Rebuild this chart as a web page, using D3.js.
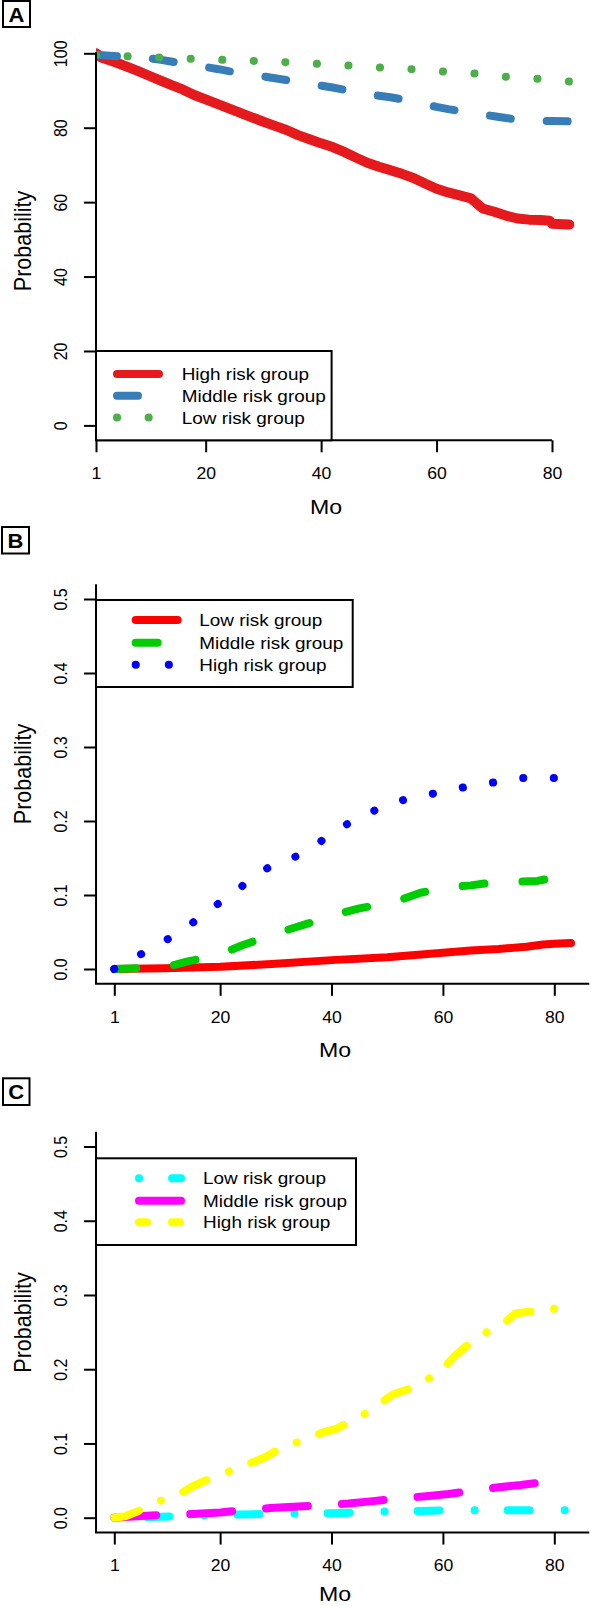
<!DOCTYPE html>
<html><head><meta charset="utf-8">
<script src="https://cdn.jsdelivr.net/npm/d3@7"></script>
<style>
html,body{margin:0;padding:0;background:#fff;}
svg{display:block;}
text{font-family:"Liberation Sans",Arial,Helvetica,sans-serif;fill:#000;}
</style></head><body>
<svg id="chart" width="591" height="1606"></svg>
<script>
// ---------------- DATA ----------------
const xTicks = [1, 20, 40, 60, 80];
const aYTicks = [0, 20, 40, 60, 80, 100];
const bcYTicks = [0, 0.1, 0.2, 0.3, 0.4, 0.5];
const bcYTickLabels = ["0.0", "0.1", "0.2", "0.3", "0.4", "0.5"];
const xLabel = "Mo";
const yLabel = "Probability";

// Panel A: survival probability (%)
const aHighMonths = [1,2,4,6,8,10,12,14,16,18,20,22,24,26,28,30,32,34,36,38,40,42,44,46,48,50,52,54,56,58,60,62,64,66,67,68,70,72,74,76,78,79.6,80,83];
const aHighValues = [100,98.8,97.8,96.6,95.4,94.1,92.8,91.5,90.3,88.8,87.6,86.4,85.2,84,82.8,81.6,80.5,79.4,78.0,76.9,75.8,74.8,73.5,72,70.6,69.5,68.6,67.6,66.5,65,63.6,62.6,61.8,61,59.6,58.3,57.4,56.4,55.6,55.3,55.2,55.0,54.2,54];
const aMidMonths = [1,5,8,10,12,14,16,18,20,22,24,26,28,30,32,34,36,38,40,42,44,46,48,50,52,54,56,58,60,62,64,66,68,70,72,74,76,80,83];
const aMidValues = [99.6,99.2,98.9,98.7,98.3,97.8,97.2,96.7,96.3,95.8,95.2,94.7,94.2,93.8,93.3,92.8,92.3,91.8,91.3,90.8,90.2,89.6,89.1,88.6,88.2,87.6,87.0,86.3,85.6,85.0,84.5,84.0,83.5,83.1,82.6,82.2,81.9,81.8,81.7];
const aLowMonths = [1,6,12,18,24,29,34,40,45,51,56,62,67,72,78,83];
const aLowValues = [99.5,99.2,98.9,98.5,98.2,97.9,97.6,97.1,96.7,96.1,95.7,95.0,94.5,93.7,93.1,92.4];
const aNames = ["High risk group", "Middle risk group", "Low risk group"];

// Panel B: cumulative probability
const bLowMonths = [1,10,20,30,40,50,55,60,65,70,75,78,80,83];
const bLowValues = [0,0.001,0.003,0.007,0.012,0.016,0.019,0.022,0.025,0.027,0.030,0.033,0.034,0.035];
const bMidMonths = [1,5,10,12,14,16,20,22,24,27,30,33,36,39,42,45,48,51,53,56,59,62,65,68,71,74,77,79.5,80,83];
const bMidValues = [0,0.001,0.003,0.006,0.01,0.013,0.02,0.026,0.032,0.04,0.048,0.055,0.062,0.07,0.076,0.082,0.086,0.09,0.095,0.103,0.108,0.111,0.113,0.116,0.117,0.118,0.119,0.123,0.131,0.131];
const bHighMonths = [1,4,8,12,15,18,21,23,26,30,34,38,41,45,49,54,59,64,69,74,80];
const bHighValues = [0,0.012,0.03,0.046,0.062,0.08,0.095,0.106,0.125,0.143,0.153,0.172,0.189,0.204,0.219,0.231,0.238,0.246,0.252,0.258,0.258];
const bNames = ["Low risk group", "Middle risk group", "High risk group"];

// Panel C: cumulative probability
const cLowMonths = [1,8,12,16,22,28,35,40,44,48,52,56,60,70,76,83];
const cLowValues = [0,0.001,0.002,0.003,0.004,0.005,0.006,0.006,0.007,0.008,0.009,0.009,0.01,0.01,0.01,0.01];
const cMidMonths = [1,5,10,15,20,24,29,34,38,43,47,52,57,61,65,70,74,77,79];
const cMidValues = [0,0.002,0.004,0.005,0.007,0.01,0.013,0.015,0.017,0.019,0.022,0.026,0.029,0.032,0.036,0.041,0.044,0.047,0.051];
const cHighMonths = [1,3,5,7,9,11,13,15,18,21,23,26,28,31,34,36,39,41,43,46,48,51,53,55,58,60,62,65,67,69,71,73,75,77,78,83];
const cHighValues = [0,0.002,0.008,0.015,0.022,0.028,0.033,0.042,0.052,0.06,0.068,0.075,0.081,0.094,0.102,0.109,0.116,0.12,0.129,0.14,0.15,0.166,0.171,0.176,0.19,0.2,0.217,0.236,0.245,0.256,0.262,0.275,0.277,0.278,0.281,0.282];
const cNames = ["Low risk group", "Middle risk group", "High risk group"];

// ---------------- LAYOUT / STYLE ----------------
const FONT_SX = 1.1;
const svg = d3.select("#chart");

function hText(parent, x, y, str, size, anchor, weight) {
  return parent.append("text")
    .attr("transform", `translate(${x},${y + 0.358 * size}) scale(${FONT_SX},1)`)
    .attr("text-anchor", anchor || "middle")
    .attr("font-size", size)
    .attr("font-weight", weight || "normal")
    .text(str);
}
function vText(parent, x, y, str, size) {
  return parent.append("text")
    .attr("transform", `translate(${x},${y}) scale(${FONT_SX},1) rotate(-90)`)
    .attr("y", 0.358 * size)
    .attr("text-anchor", "middle")
    .attr("font-size", size)
    .text(str);
}

const panels = [
  {
    letter: "A", letterBox: [3, 1, 27, 26],
    x: d3.scaleLinear().domain([1, 80]).range([96, 552]),
    y: d3.scaleLinear().domain([0, 100]).range([425.4, 53.3]),
    yTicks: aYTicks, yFmt: d3.format("d"),
    xDomainLine: "ticks",
    regionY: [-4, 104], regionX: [1, 83],
    xTitle: [326, 506], yTitle: [23, 241],
    clipLeft: true,
    series: [
      {m: aHighMonths, v: aHighValues, color: "#E41A1C", width: 10, legendWidth: 8, dash: null},
      {m: aMidMonths, v: aMidValues, color: "#377EB8", width: 8, dash: "21 36"},
      {m: aLowMonths, v: aLowValues, color: "#4DAF4A", width: 8, dash: "0.1 31.5", dotted: 31.5}
    ],
    names: aNames,
    legend: {x0: 96, x1: 331.6, y0: 351, y1: 440.3, rows: [374, 395.7, 417.5], s0: 117, s1: 159, tx: 181.7}
  },
  {
    letter: "B", letterBox: [2, 527, 27, 26.5],
    x: d3.scaleLinear().domain([1, 80]).range([114.3, 554.3]),
    y: d3.scaleLinear().domain([0, 0.5]).range([969, 599]),
    yTicks: bcYTicks, yFmt: (d, i) => bcYTickLabels[i],
    xDomainLine: "region",
    regionY: [-0.02, 0.52], regionX: [1 - 3.28, 83 + 3.28],
    xTitle: [335, 1049], yTitle: [23, 774],
    clipLeft: false,
    series: [
      {m: bLowMonths, v: bLowValues, color: "#FF0000", width: 8, dash: null},
      {m: bMidMonths, v: bMidValues, color: "#00CD00", width: 8, dash: "22 38"},
      {m: bHighMonths, v: bHighValues, color: "#0000FF", width: 8, dash: "0.1 30", dotted: 30, legendDash: "0.1 33"}
    ],
    names: bNames,
    legend: {x0: 96, x1: 352.7, y0: 600, y1: 687, rows: [620, 642.7, 664.7], s0: 135.7, s1: 177.7, tx: 199.3}
  },
  {
    letter: "C", letterBox: [3, 1078.3, 26.5, 26.7],
    x: d3.scaleLinear().domain([1, 80]).range([114.3, 554.3]),
    y: d3.scaleLinear().domain([0, 0.5]).range([1517.7, 1146.5]),
    yTicks: bcYTicks, yFmt: (d, i) => bcYTickLabels[i],
    xDomainLine: "region",
    regionY: [-0.02, 0.52], regionX: [1 - 3.28, 83 + 3.28],
    xTitle: [335, 1593.5], yTitle: [23, 1322.5],
    clipLeft: false,
    series: [
      {m: cLowMonths, v: cLowValues, color: "#00FFFF", width: 8, dash: "0.1 33 22 35"},
      {m: cMidMonths, v: cMidValues, color: "#FF00FF", width: 8, dash: "42 34"},
      {m: cHighMonths, v: cHighValues, color: "#FFFF00", width: 8, dash: "26 24 0.1 24", legendDash: "8 25"}
    ],
    names: cNames,
    legend: {x0: 96, x1: 356, y0: 1158.3, y1: 1245, rows: [1178.3, 1200.7, 1222.3], s0: 139, s1: 181, tx: 203}
  }
];

panels.forEach((p, pi) => {
  const g = svg.append("g");
  const x = p.x, y = p.y;
  const left = x(p.regionX[0]);
  const right = Math.min(590, x(p.regionX[1]));
  const bottom = y(p.regionY[0]);
  const top = y(p.regionY[1]);

  // panel letter box
  const lb = p.letterBox;
  g.append("rect").attr("x", lb[0]).attr("y", lb[1]).attr("width", lb[2]).attr("height", lb[3])
    .attr("fill", "#fff").attr("stroke", "#000").attr("stroke-width", 2);
  hText(g, lb[0] + lb[2] / 2, lb[1] + lb[3] / 2 + 0.5, p.letter, 20, "middle", "bold");

  // clip
  const clipId = "clip" + pi;
  svg.append("clipPath").attr("id", clipId).append("rect")
    .attr("x", p.clipLeft ? left : 0).attr("y", top - 30)
    .attr("width", 591 - (p.clipLeft ? left : 0)).attr("height", bottom - top + 40);

  // data lines
  const line = d3.line().x(d => x(d[0])).y(d => y(d[1]));
  const dataG = g.append("g").attr("clip-path", `url(#${clipId})`);
  p.series.forEach(s => {
    const path = dataG.append("path")
      .attr("d", line(d3.zip(s.m, s.v)))
      .attr("fill", "none")
      .attr("stroke", s.color)
      .attr("stroke-width", s.width)
      .attr("stroke-linecap", "round")
      .attr("stroke-linejoin", "round")
      .attr("stroke-dasharray", s.dash);
    if (s.dotted) {
      // fit the dot spacing so that dots sit on both ends of the curve
      const len = path.node().getTotalLength();
      const n = Math.max(1, Math.round(len / s.dotted));
      const per = (len - 0.5) / n;
      path.attr("stroke-dasharray", `0.1 ${per - 0.1}`);
    }
  });

  // axes
  const xAxisG = g.append("g").attr("transform", `translate(0,${bottom})`)
    .call(d3.axisBottom(x).tickValues(xTicks).tickSize(12).tickFormat(d3.format("d")));
  const yAxisG = g.append("g").attr("transform", `translate(${left},0)`)
    .call(d3.axisLeft(y).tickValues(p.yTicks).tickSize(12).tickFormat(p.yFmt));
  [xAxisG, yAxisG].forEach(a => {
    a.attr("font-family", null).attr("font-size", null);
    a.select(".domain").remove();
    a.selectAll(".tick line").attr("stroke", "#000").attr("stroke-width", 2);
  });
  xAxisG.selectAll(".tick text")
    .attr("y", null).attr("dy", null).attr("fill", "#000")
    .attr("font-size", 16).attr("text-anchor", "middle")
    .attr("transform", `translate(0,${33 + 0.358 * 16}) scale(${FONT_SX},1)`);
  yAxisG.selectAll(".tick text")
    .attr("x", null).attr("dy", null).attr("fill", "#000")
    .attr("font-size", 16).attr("text-anchor", "middle")
    .attr("y", 0.358 * 16)
    .attr("transform", `translate(${61 - left},0) scale(${FONT_SX},1) rotate(-90)`);

  // axis lines
  if (p.xDomainLine === "ticks") {
    g.append("line").attr("x1", x(xTicks[0])).attr("x2", x(xTicks[xTicks.length - 1]))
      .attr("y1", bottom).attr("y2", bottom).attr("stroke", "#000").attr("stroke-width", 2);
    g.append("line").attr("x1", left).attr("x2", left)
      .attr("y1", y(p.yTicks[0])).attr("y2", y(p.yTicks[p.yTicks.length - 1]))
      .attr("stroke", "#000").attr("stroke-width", 2).attr("stroke-linecap", "square");
  } else {
    g.append("path").attr("d", `M${left},${top}V${bottom}H${right}`)
      .attr("fill", "none").attr("stroke", "#000").attr("stroke-width", 2);
  }

  // titles
  hText(g, p.xTitle[0], p.xTitle[1], xLabel, 21, "middle");
  vText(g, p.yTitle[0], p.yTitle[1], yLabel, 21.5);

  // legend
  const L = p.legend;
  g.append("rect").attr("x", L.x0).attr("y", L.y0).attr("width", L.x1 - L.x0).attr("height", L.y1 - L.y0)
    .attr("fill", "#fff").attr("stroke", "#000").attr("stroke-width", 2);
  p.series.forEach((s, i) => {
    g.append("line").attr("x1", L.s0).attr("x2", L.s1).attr("y1", L.rows[i]).attr("y2", L.rows[i])
      .attr("stroke", s.color).attr("stroke-width", s.legendWidth || s.width)
      .attr("stroke-linecap", "round")
      .attr("stroke-dasharray", s.legendDash || s.dash);
    hText(g, L.tx, L.rows[i], p.names[i], 17.2, "start");
  });
});
</script>
</body></html>
